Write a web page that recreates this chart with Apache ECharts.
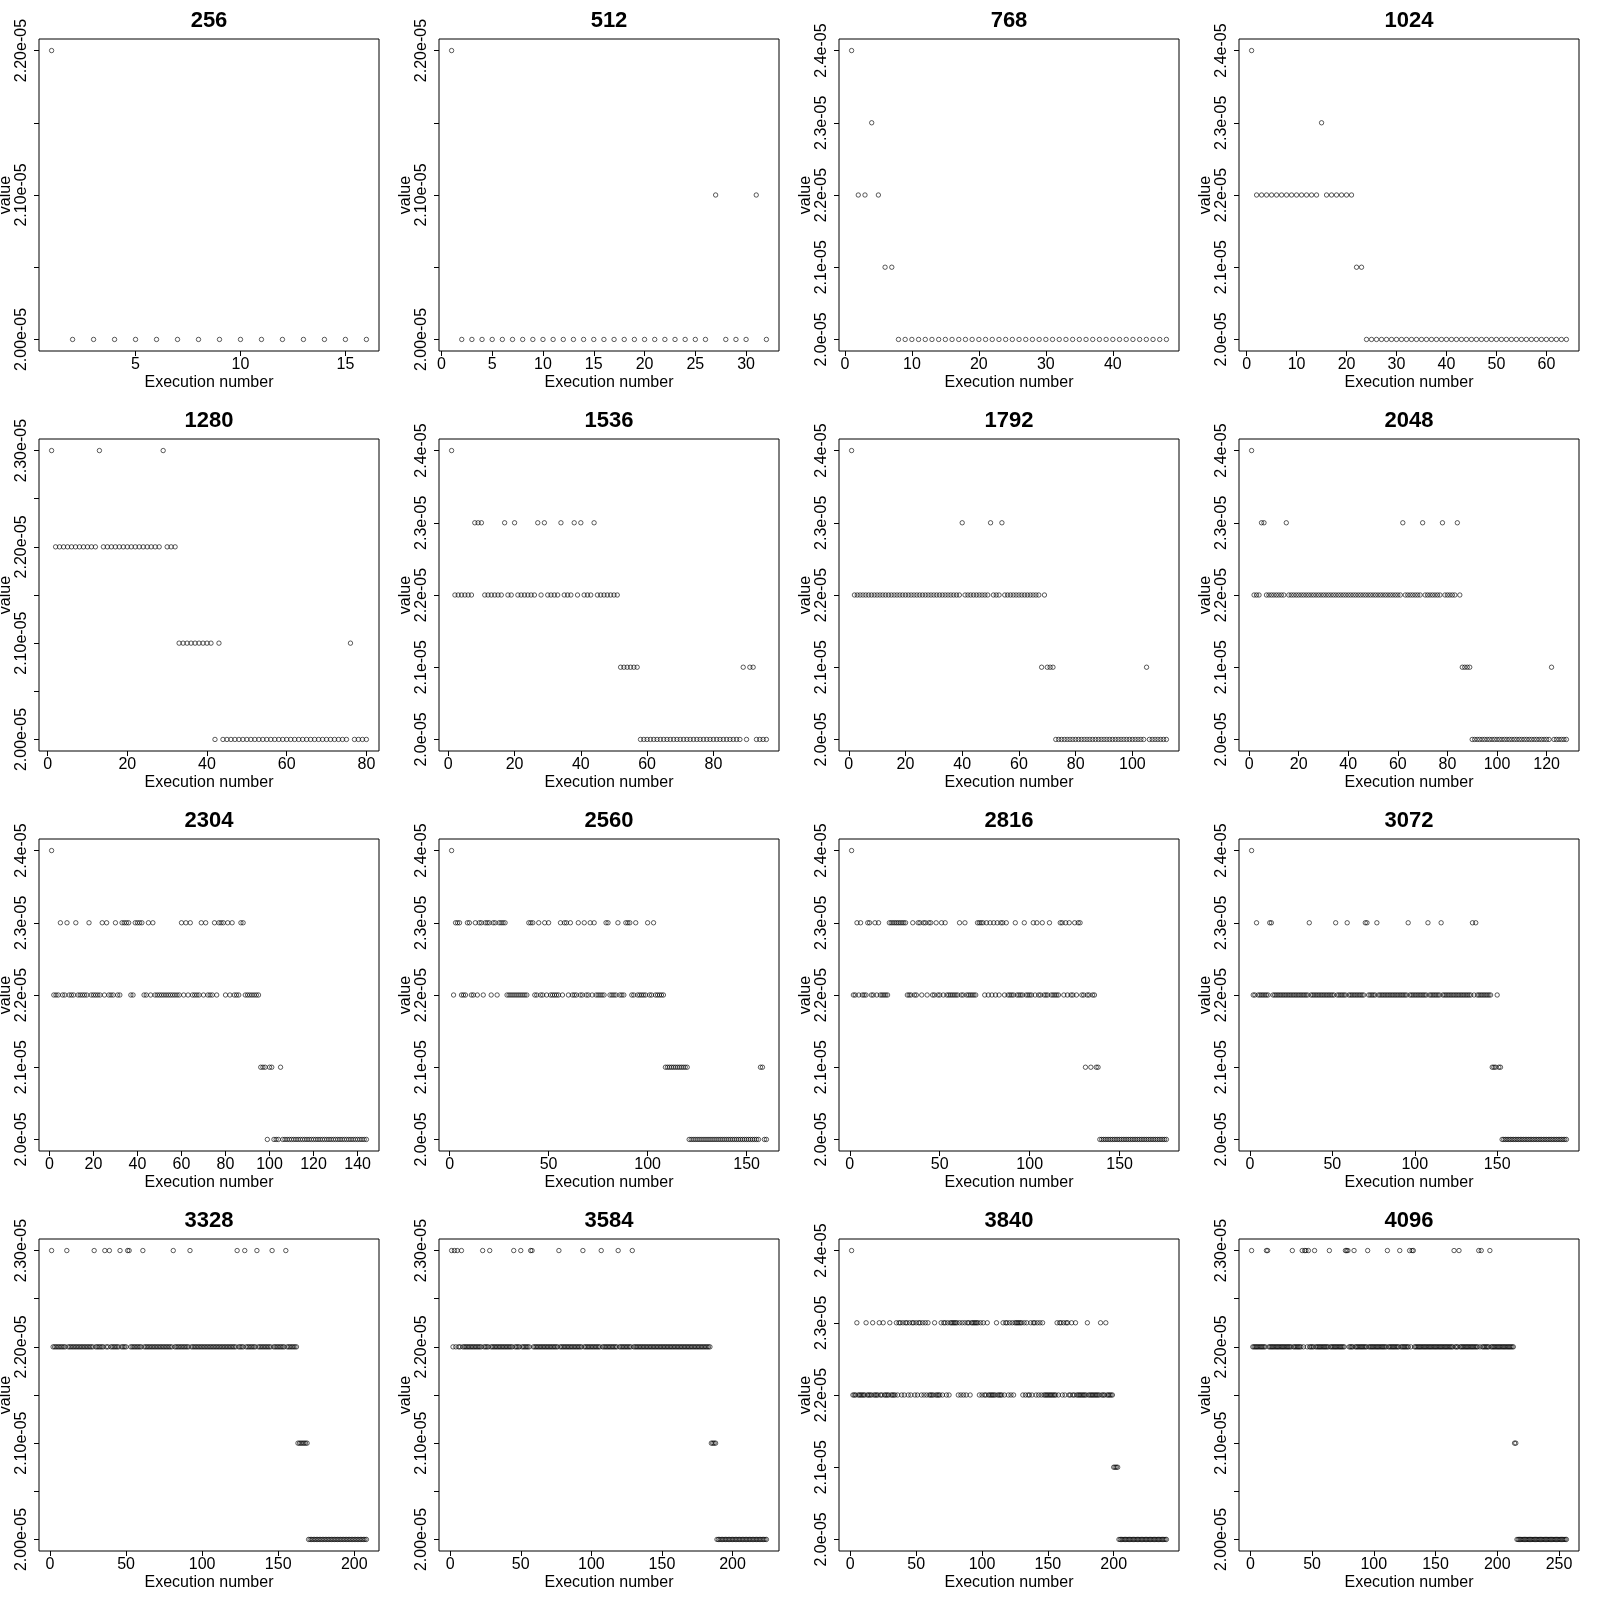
<!DOCTYPE html>
<html><head><meta charset="utf-8">
<script src="https://cdn.jsdelivr.net/npm/echarts@6/dist/echarts.min.js"></script>
<style>html,body{margin:0;padding:0;background:#fff}#c{width:1600px;height:1600px}</style>
</head><body><div id="c"></div>
<script>
// Values are in units of 1e-05, listed in execution order as runs of [value, count].
const runs256 = [[2.2,1],[2.0,15]];
const runs512 = [[2.2,1],[2.0,25],[2.1,1],[2.0,3],[2.1,1],[2.0,1]];
const runs768 = [[2.4,1],[2.2,2],[2.3,1],[2.2,1],[2.1,2],[2.0,41]];
const runs1024 = [[2.4,1],[2.2,13],[2.3,1],[2.2,6],[2.1,2],[2.0,41]];
const runs1280 = [[2.3,1],[2.2,11],[2.3,1],[2.2,15],[2.3,1],[2.2,3],[2.1,9],[2.0,1],[2.1,1],[2.0,32],[2.1,1],[2.0,4]];
const runs1536 = [[2.4,1],[2.2,6],[2.3,3],[2.2,6],[2.3,1],[2.2,2],[2.3,1],[2.2,6],[2.3,1],[2.2,1],[2.3,1],[2.2,4],[2.3,1],[2.2,3],[2.3,1],[2.2,1],[2.3,1],[2.2,3],[2.3,1],[2.2,7],[2.1,6],[2.0,31],[2.1,1],[2.0,1],[2.1,2],[2.0,4]];
const runs1792 = [[2.4,1],[2.2,38],[2.3,1],[2.2,9],[2.3,1],[2.2,3],[2.3,1],[2.2,13],[2.1,1],[2.2,1],[2.1,3],[2.0,32],[2.1,1],[2.0,7]];
const runs2048 = [[2.4,1],[2.2,3],[2.3,2],[2.2,8],[2.3,1],[2.2,46],[2.3,1],[2.2,7],[2.3,1],[2.2,7],[2.3,1],[2.2,5],[2.3,1],[2.2,1],[2.1,4],[2.0,32],[2.1,1],[2.0,6]];
const runs2304 = [[2.4,1],[2.2,3],[2.3,1],[2.2,2],[2.3,1],[2.2,3],[2.3,1],[2.2,5],[2.3,1],[2.2,5],[2.3,1],[2.2,1],[2.3,1],[2.2,3],[2.3,1],[2.2,2],[2.3,4],[2.2,2],[2.3,4],[2.2,2],[2.3,1],[2.2,1],[2.3,1],[2.2,12],[2.3,1],[2.2,1],[2.3,1],[2.2,1],[2.3,1],[2.2,4],[2.3,1],[2.2,1],[2.3,1],[2.2,3],[2.3,1],[2.2,1],[2.3,3],[2.2,1],[2.3,1],[2.2,1],[2.3,1],[2.2,3],[2.3,2],[2.2,7],[2.1,3],[2.0,1],[2.1,2],[2.0,3],[2.1,1],[2.0,39]];
const runs2560 = [[2.4,1],[2.2,1],[2.3,3],[2.2,3],[2.3,2],[2.2,2],[2.3,1],[2.2,1],[2.3,2],[2.2,1],[2.3,3],[2.2,1],[2.3,2],[2.2,1],[2.3,4],[2.2,11],[2.3,3],[2.2,2],[2.3,1],[2.2,2],[2.3,1],[2.2,1],[2.3,1],[2.2,5],[2.3,1],[2.2,1],[2.3,2],[2.2,1],[2.3,1],[2.2,3],[2.3,1],[2.2,2],[2.3,1],[2.2,2],[2.3,1],[2.2,1],[2.3,1],[2.2,5],[2.3,2],[2.2,4],[2.3,1],[2.2,3],[2.3,3],[2.2,2],[2.3,1],[2.2,5],[2.3,1],[2.2,2],[2.3,1],[2.2,5],[2.1,12],[2.0,36],[2.1,2],[2.0,2]];
const runs2816 = [[2.4,1],[2.2,2],[2.3,1],[2.2,1],[2.3,1],[2.2,3],[2.3,2],[2.2,2],[2.3,1],[2.2,1],[2.3,1],[2.2,5],[2.3,10],[2.2,3],[2.3,1],[2.2,2],[2.3,2],[2.2,1],[2.3,2],[2.2,1],[2.3,2],[2.2,2],[2.3,1],[2.2,2],[2.3,1],[2.2,1],[2.3,1],[2.2,7],[2.3,1],[2.2,2],[2.3,1],[2.2,6],[2.3,4],[2.2,1],[2.3,1],[2.2,1],[2.3,1],[2.2,1],[2.3,1],[2.2,1],[2.3,1],[2.2,1],[2.3,2],[2.2,1],[2.3,1],[2.2,4],[2.3,1],[2.2,4],[2.3,1],[2.2,4],[2.3,1],[2.2,1],[2.3,1],[2.2,2],[2.3,1],[2.2,3],[2.3,1],[2.2,5],[2.3,2],[2.2,1],[2.3,1],[2.2,1],[2.3,1],[2.2,2],[2.3,1],[2.2,1],[2.3,2],[2.2,2],[2.1,1],[2.2,2],[2.1,1],[2.2,2],[2.1,2],[2.0,38]];
const runs3072 = [[2.4,1],[2.2,2],[2.3,1],[2.2,7],[2.3,2],[2.2,22],[2.3,1],[2.2,15],[2.3,1],[2.2,6],[2.3,1],[2.2,10],[2.3,2],[2.2,5],[2.3,1],[2.2,18],[2.3,1],[2.2,11],[2.3,1],[2.2,7],[2.3,1],[2.2,18],[2.3,1],[2.2,1],[2.3,1],[2.2,9],[2.1,3],[2.2,1],[2.1,2],[2.0,40]];
const runs3328 = [[2.3,1],[2.2,9],[2.3,1],[2.2,17],[2.3,1],[2.2,6],[2.3,1],[2.2,2],[2.3,1],[2.2,6],[2.3,1],[2.2,4],[2.3,2],[2.2,8],[2.3,1],[2.2,19],[2.3,1],[2.2,10],[2.3,1],[2.2,30],[2.3,1],[2.2,4],[2.3,1],[2.2,7],[2.3,1],[2.2,9],[2.3,1],[2.2,8],[2.3,1],[2.2,7],[2.1,7],[2.0,39]];
const runs3584 = [[2.3,1],[2.2,1],[2.3,1],[2.2,1],[2.3,1],[2.2,2],[2.3,1],[2.2,14],[2.3,1],[2.2,4],[2.3,1],[2.2,16],[2.3,1],[2.2,4],[2.3,1],[2.2,6],[2.3,2],[2.2,18],[2.3,1],[2.2,16],[2.3,1],[2.2,12],[2.3,1],[2.2,11],[2.3,1],[2.2,9],[2.3,1],[2.2,55],[2.1,4],[2.0,36]];
const runs3840 = [[2.4,1],[2.2,3],[2.3,1],[2.2,6],[2.3,1],[2.2,4],[2.3,1],[2.2,4],[2.3,1],[2.2,2],[2.3,1],[2.2,4],[2.3,1],[2.2,4],[2.3,1],[2.2,1],[2.3,2],[2.2,1],[2.3,1],[2.2,1],[2.3,2],[2.2,1],[2.3,1],[2.2,1],[2.3,2],[2.2,1],[2.3,1],[2.2,1],[2.3,2],[2.2,1],[2.3,1],[2.2,1],[2.3,1],[2.2,1],[2.3,1],[2.2,4],[2.3,1],[2.2,4],[2.3,1],[2.2,1],[2.3,2],[2.2,1],[2.3,1],[2.2,1],[2.3,6],[2.2,1],[2.3,1],[2.2,1],[2.3,1],[2.2,1],[2.3,1],[2.2,1],[2.3,2],[2.2,1],[2.3,6],[2.2,1],[2.3,1],[2.2,1],[2.3,1],[2.2,2],[2.3,1],[2.2,6],[2.3,1],[2.2,4],[2.3,1],[2.2,1],[2.3,2],[2.2,1],[2.3,1],[2.2,1],[2.3,1],[2.2,1],[2.3,6],[2.2,1],[2.3,1],[2.2,1],[2.3,1],[2.2,2],[2.3,1],[2.2,1],[2.3,2],[2.2,1],[2.3,1],[2.2,1],[2.3,1],[2.2,1],[2.3,1],[2.2,10],[2.3,1],[2.2,1],[2.3,2],[2.2,1],[2.3,1],[2.2,1],[2.3,2],[2.2,2],[2.3,1],[2.2,2],[2.3,1],[2.2,8],[2.3,1],[2.2,9],[2.3,1],[2.2,3],[2.3,1],[2.2,5],[2.1,4],[2.0,37]];
const runs4096 = [[2.3,1],[2.2,11],[2.3,2],[2.2,19],[2.3,1],[2.2,7],[2.3,1],[2.2,1],[2.3,2],[2.2,1],[2.3,1],[2.2,4],[2.3,1],[2.2,11],[2.3,1],[2.2,12],[2.3,3],[2.2,4],[2.3,1],[2.2,10],[2.3,1],[2.2,15],[2.3,1],[2.2,9],[2.3,1],[2.2,7],[2.3,1],[2.2,1],[2.3,2],[2.2,32],[2.3,1],[2.2,3],[2.3,1],[2.2,15],[2.3,1],[2.2,1],[2.3,1],[2.2,6],[2.3,1],[2.2,19],[2.1,2],[2.0,41]];

const panelTitles = ['256','512','768','1024','1280','1536','1792','2048','2304','2560','2816','3072','3328','3584','3840','4096'];
const panelRuns = [runs256,runs512,runs768,runs1024,runs1280,runs1536,runs1792,runs2048,runs2304,runs2560,runs2816,runs3072,runs3328,runs3584,runs3840,runs4096];

const xTicks256 = [5,10,15];
const xTicks512 = [0,5,10,15,20,25,30];
const xTicks768 = [0,10,20,30,40];
const xTicks1024 = [0,10,20,30,40,50,60];
const xTicks1280 = [0,20,40,60,80];
const xTicks1536 = [0,20,40,60,80];
const xTicks1792 = [0,20,40,60,80,100];
const xTicks2048 = [0,20,40,60,80,100,120];
const xTicks2304 = [0,20,40,60,80,100,120,140];
const xTicks2560 = [0,50,100,150];
const xTicks2816 = [0,50,100,150];
const xTicks3072 = [0,50,100,150];
const xTicks3328 = [0,50,100,150,200];
const xTicks3584 = [0,50,100,150,200];
const xTicks3840 = [0,50,100,150,200];
const xTicks4096 = [0,50,100,150,200,250];
const panelXTicks = [xTicks256,xTicks512,xTicks768,xTicks1024,xTicks1280,xTicks1536,xTicks1792,xTicks2048,xTicks2304,xTicks2560,xTicks2816,xTicks3072,xTicks3328,xTicks3584,xTicks3840,xTicks4096];

// y tick positions (units of 1e-05) and their printed labels ('' = tick without label)
const yTicks22 = [2.00,2.05,2.10,2.15,2.20];
const yLabels22 = ['2.00e-05','','2.10e-05','','2.20e-05'];
const yTicks23 = [2.00,2.05,2.10,2.15,2.20,2.25,2.30];
const yLabels23 = ['2.00e-05','','2.10e-05','','2.20e-05','','2.30e-05'];
const yTicks24 = [2.0,2.1,2.2,2.3,2.4];
const yLabels24 = ['2.0e-05','2.1e-05','2.2e-05','2.3e-05','2.4e-05'];

const FONT = '"Liberation Sans", Arial, Helvetica, sans-serif';

function expand(runs){ const out=[]; runs.forEach(([v,n])=>{ for(let k=0;k<n;k++) out.push(v); }); return out; }

const grid=[], xAxis=[], yAxis=[], series=[], title=[];
panelRuns.forEach((runs,k)=>{
  const r=Math.floor(k/4), c=k%4;
  const vals=expand(runs);
  const N=vals.length;
  const lo=Math.min(...vals), hi=Math.max(...vals);
  let yt, yl;
  if (hi>2.35) { yt=yTicks24; yl=yLabels24; } else if (hi>2.25) { yt=yTicks23; yl=yLabels23; } else { yt=yTicks22; yl=yLabels22; }
  const dx=0.04*(N-1), dy=0.04*(hi-lo);
  const gl=c*400+39, gt=r*400+39;
  grid.push({left:gl, top:gt, width:340, height:312, show:true, borderColor:'#000', borderWidth:1,
    backgroundColor:'transparent', containLabel:false, outerBoundsMode:'none'});
  title.push({text:panelTitles[k], left:gl+170, top:r*400+10, textAlign:'center', padding:0,
    textStyle:{fontFamily:FONT, fontSize:22, fontWeight:'bold', color:'#000'}});
  xAxis.push({type:'value', gridIndex:k, min:1-dx, max:N+dx,
    axisLine:{show:false, onZero:false}, splitLine:{show:false},
    axisTick:{show:true, length:5, inside:false, customValues:panelXTicks[k], lineStyle:{color:'#000', width:1}},
    axisLabel:{customValues:panelXTicks[k], margin:6, fontFamily:FONT, fontSize:16, color:'#000'},
    name:'Execution number', nameLocation:'middle', nameGap:24,
    nameTextStyle:{fontFamily:FONT, fontSize:16, color:'#000'}});
  const labVals = yt.filter((v,i)=>yl[i]!=='');
  yAxis.push({type:'value', gridIndex:k, min:lo-dy, max:hi+dy,
    axisLine:{show:false, onZero:false}, splitLine:{show:false},
    axisTick:{show:true, length:5, inside:false, customValues:yt, lineStyle:{color:'#000', width:1}},
    axisLabel:{customValues:labVals, rotate:90, margin:9, fontFamily:FONT, fontSize:16, color:'#000',
      formatter:(v)=>{ let bi=0; yt.forEach((t,i)=>{ if(Math.abs(t-v)<Math.abs(yt[bi]-v)) bi=i; }); return yl[bi]; }},
    name:'value', nameLocation:'middle', nameRotate:90, nameGap:24,
    nameTextStyle:{fontFamily:FONT, fontSize:16, color:'#000'}});
  series.push({type:'scatter', xAxisIndex:k, yAxisIndex:k, silent:true,
    data: vals.map((v,i)=>[i+1,v]),
    symbol:'circle', symbolSize:4.4,
    itemStyle:{color:'rgba(0,0,0,0)', borderColor:'#000', borderWidth:0.8}});
});

const chart = echarts.init(document.getElementById('c'), null, {renderer:'canvas'});
chart.setOption({animation:false, backgroundColor:'#fff', title, grid, xAxis, yAxis, series});
</script></body></html>
